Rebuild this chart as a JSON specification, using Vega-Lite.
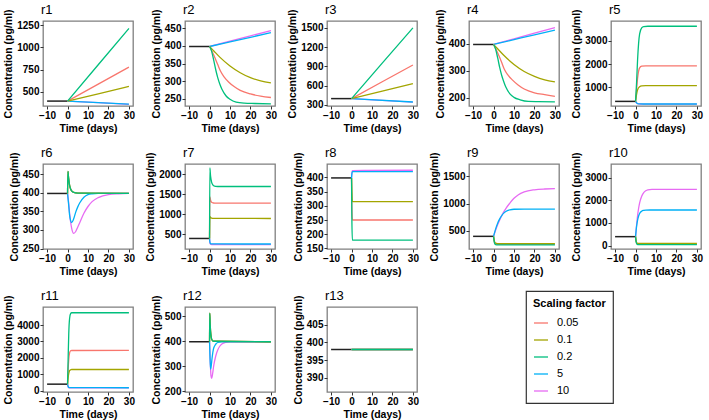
{
"$schema": "https://vega.github.io/schema/vega-lite/v6.json",
"padding": {"left": 3, "top": 3, "right": 4, "bottom": 1},
"columns": 5,
"spacing": {"row": 58, "column": 52},
"bounds": "flush",
"config": {
  "font": "Liberation Sans",
  "view": {"stroke": "#7f7f7f", "strokeWidth": 1.3},
  "axis": {"grid": false, "domain": false, "format": "d", "labelFontSize": 10, "labelFontWeight": "bold", "labelColor": "#000", "titleFontSize": 10.5, "titleFontWeight": "bold", "titleColor": "#000", "tickColor": "#333", "tickSize": 3, "labelPadding": 1, "titlePadding": 3},
  "title": {"fontSize": 13, "fontWeight": "normal", "anchor": "start", "frame": "group", "offset": -8, "color": "#000", "dx": -2},
  "legend": {"strokeColor": "#333", "strokeWidth": 1.2, "padding": 7, "titleFontSize": 11, "titleFontWeight": "bold", "titleColor": "#000", "labelFontSize": 11, "labelColor": "#000", "symbolSize": 196, "symbolStrokeWidth": 1.5, "rowPadding": 4, "labelOffset": 8, "titlePadding": 6},
  "line": {"strokeWidth": 1.3, "interpolate": "monotone"}
},
"datasets": {
"r1": [{"s":"base","t":-10,"v":398},{"s":"base","t":0,"v":398},
{"s":"10","t":0,"v":398},{"s":"10","t":15,"v":380},{"s":"10","t":30,"v":361},
{"s":"5","t":0,"v":398},{"s":"5","t":15,"v":381},{"s":"5","t":30,"v":364},
{"s":"0.05","t":0,"v":398},{"s":"0.05","t":15,"v":588},{"s":"0.05","t":30,"v":779},
{"s":"0.1","t":0,"v":398},{"s":"0.1","t":15,"v":480},{"s":"0.1","t":30,"v":562},
{"s":"0.2","t":0,"v":398},{"s":"0.2","t":15,"v":805},{"s":"0.2","t":30,"v":1212}],
"r2": [{"s":"base","t":-10,"v":398},{"s":"base","t":0,"v":398},
{"s":"10","t":0,"v":398},{"s":"10","t":10,"v":413},{"s":"10","t":20,"v":428},{"s":"10","t":30,"v":443},
{"s":"5","t":0,"v":398},{"s":"5","t":10,"v":411},{"s":"5","t":20,"v":424},{"s":"5","t":30,"v":437},
{"s":"0.05","t":0,"v":398},{"s":"0.05","t":2,"v":375},{"s":"0.05","t":4,"v":347},{"s":"0.05","t":5.4,"v":328},{"s":"0.05","t":7,"v":313},{"s":"0.05","t":9.3,"v":298},{"s":"0.05","t":12,"v":285},{"s":"0.05","t":15,"v":274},{"s":"0.05","t":20,"v":264},{"s":"0.05","t":25,"v":258},{"s":"0.05","t":30,"v":254},
{"s":"0.1","t":0,"v":398},{"s":"0.1","t":2,"v":386},{"s":"0.1","t":5,"v":368},{"s":"0.1","t":10,"v":343},{"s":"0.1","t":15,"v":324},{"s":"0.1","t":20,"v":310},{"s":"0.1","t":25,"v":301},{"s":"0.1","t":30,"v":295},
{"s":"0.2","t":0,"v":398},{"s":"0.2","t":1,"v":385},{"s":"0.2","t":2,"v":360},{"s":"0.2","t":3,"v":333},{"s":"0.2","t":4,"v":310},{"s":"0.2","t":5,"v":292},{"s":"0.2","t":6,"v":278},{"s":"0.2","t":8,"v":259},{"s":"0.2","t":10,"v":249},{"s":"0.2","t":13,"v":241},{"s":"0.2","t":17,"v":238},{"s":"0.2","t":22,"v":237},{"s":"0.2","t":30,"v":236}],
"r3": [{"s":"base","t":-10,"v":398},{"s":"base","t":0,"v":398},
{"s":"10","t":0,"v":398},{"s":"10","t":30,"v":342},
{"s":"5","t":0,"v":398},{"s":"5","t":30,"v":345},
{"s":"0.05","t":0,"v":398},{"s":"0.05","t":15,"v":660},{"s":"0.05","t":30,"v":922},
{"s":"0.1","t":0,"v":398},{"s":"0.1","t":15,"v":514},{"s":"0.1","t":30,"v":630},
{"s":"0.2","t":0,"v":398},{"s":"0.2","t":15,"v":950},{"s":"0.2","t":30,"v":1500}],
"r4": [{"s":"base","t":-10,"v":398},{"s":"base","t":0,"v":398},
{"s":"10","t":0,"v":398},{"s":"10","t":10,"v":419},{"s":"10","t":20,"v":440},{"s":"10","t":30,"v":460},
{"s":"5","t":0,"v":398},{"s":"5","t":10,"v":416},{"s":"5","t":20,"v":434},{"s":"5","t":30,"v":451},
{"s":"0.05","t":0,"v":398},{"s":"0.05","t":2,"v":367},{"s":"0.05","t":4,"v":331},{"s":"0.05","t":5.4,"v":304},{"s":"0.05","t":7,"v":285},{"s":"0.05","t":9.3,"v":266},{"s":"0.05","t":12,"v":248},{"s":"0.05","t":15,"v":233},{"s":"0.05","t":20,"v":219},{"s":"0.05","t":25,"v":212},{"s":"0.05","t":30,"v":206},
{"s":"0.1","t":0,"v":398},{"s":"0.1","t":2,"v":382},{"s":"0.1","t":5,"v":358},{"s":"0.1","t":10,"v":324},{"s":"0.1","t":15,"v":298},{"s":"0.1","t":20,"v":280},{"s":"0.1","t":25,"v":267},{"s":"0.1","t":30,"v":259},
{"s":"0.2","t":0,"v":398},{"s":"0.2","t":1,"v":381},{"s":"0.2","t":2,"v":349},{"s":"0.2","t":3,"v":313},{"s":"0.2","t":4,"v":283},{"s":"0.2","t":5,"v":260},{"s":"0.2","t":6,"v":240},{"s":"0.2","t":8,"v":215},{"s":"0.2","t":10,"v":202},{"s":"0.2","t":13,"v":193},{"s":"0.2","t":17,"v":187},{"s":"0.2","t":22,"v":186},{"s":"0.2","t":30,"v":185}],
"r5": [{"s":"base","t":-10,"v":398},{"s":"base","t":0,"v":398},
{"s":"10","t":0,"v":398},{"s":"10","t":0.5,"v":330},{"s":"10","t":1,"v":300},{"s":"10","t":2,"v":286},{"s":"10","t":4,"v":282},{"s":"10","t":30,"v":282},
{"s":"5","t":0,"v":398},{"s":"5","t":0.5,"v":335},{"s":"5","t":1,"v":305},{"s":"5","t":2,"v":290},{"s":"5","t":4,"v":285},{"s":"5","t":30,"v":285},
{"s":"0.05","t":0,"v":398},{"s":"0.05","t":0.5,"v":900},{"s":"0.05","t":1,"v":1400},{"s":"0.05","t":1.5,"v":1700},{"s":"0.05","t":2,"v":1840},{"s":"0.05","t":3,"v":1910},{"s":"0.05","t":5,"v":1925},{"s":"0.05","t":30,"v":1925},
{"s":"0.1","t":0,"v":398},{"s":"0.1","t":0.5,"v":700},{"s":"0.1","t":1,"v":900},{"s":"0.1","t":2,"v":1030},{"s":"0.1","t":3,"v":1065},{"s":"0.1","t":5,"v":1075},{"s":"0.1","t":30,"v":1075},
{"s":"0.2","t":0,"v":398},{"s":"0.2","t":0.5,"v":1200},{"s":"0.2","t":1,"v":2200},{"s":"0.2","t":1.5,"v":2900},{"s":"0.2","t":2,"v":3300},{"s":"0.2","t":3,"v":3550},{"s":"0.2","t":4,"v":3610},{"s":"0.2","t":6,"v":3625},{"s":"0.2","t":30,"v":3625}],
"r6": [{"s":"base","t":-10,"v":398},{"s":"base","t":0,"v":398},
{"s":"10","t":0,"v":398},{"s":"10","t":0.5,"v":375},{"s":"10","t":1,"v":345},{"s":"10","t":2,"v":305},{"s":"10","t":3,"v":291},{"s":"10","t":4,"v":296},{"s":"10","t":5,"v":308},{"s":"10","t":6,"v":320},{"s":"10","t":8,"v":345},{"s":"10","t":10,"v":363},{"s":"10","t":12,"v":376},{"s":"10","t":15,"v":387},{"s":"10","t":20,"v":395},{"s":"10","t":25,"v":397},{"s":"10","t":30,"v":398},
{"s":"5","t":0,"v":398},{"s":"5","t":0.5,"v":370},{"s":"5","t":1,"v":340},{"s":"5","t":1.5,"v":325},{"s":"5","t":2,"v":320},{"s":"5","t":3,"v":330},{"s":"5","t":4,"v":348},{"s":"5","t":5,"v":362},{"s":"5","t":6,"v":373},{"s":"5","t":8,"v":388},{"s":"5","t":10,"v":395},{"s":"5","t":12,"v":397},{"s":"5","t":15,"v":398},{"s":"5","t":30,"v":398},
{"s":"0.05","t":0,"v":398},{"s":"0.05","t":0.2,"v":457},{"s":"0.05","t":0.5,"v":440},{"s":"0.05","t":1,"v":420},{"s":"0.05","t":1.5,"v":410},{"s":"0.05","t":2,"v":405},{"s":"0.05","t":3,"v":401},{"s":"0.05","t":5,"v":399},{"s":"0.05","t":30,"v":398},
{"s":"0.1","t":0,"v":398},{"s":"0.1","t":0.2,"v":457},{"s":"0.1","t":0.5,"v":440},{"s":"0.1","t":1,"v":420},{"s":"0.1","t":1.5,"v":410},{"s":"0.1","t":2,"v":405},{"s":"0.1","t":3,"v":401},{"s":"0.1","t":5,"v":399},{"s":"0.1","t":30,"v":398},
{"s":"0.2","t":0,"v":398},{"s":"0.2","t":0.2,"v":457},{"s":"0.2","t":0.5,"v":440},{"s":"0.2","t":1,"v":420},{"s":"0.2","t":1.5,"v":410},{"s":"0.2","t":2,"v":405},{"s":"0.2","t":3,"v":401},{"s":"0.2","t":5,"v":399},{"s":"0.2","t":30,"v":398}],
"r7": [{"s":"base","t":-10,"v":398},{"s":"base","t":0,"v":398},
{"s":"10","t":0,"v":398},{"s":"10","t":0.2,"v":280},{"s":"10","t":0.5,"v":255},{"s":"10","t":1,"v":248},{"s":"10","t":30,"v":246},
{"s":"5","t":0,"v":398},{"s":"5","t":0.2,"v":300},{"s":"5","t":0.5,"v":270},{"s":"5","t":1,"v":262},{"s":"5","t":30,"v":260},
{"s":"0.05","t":0,"v":398},{"s":"0.05","t":0.15,"v":1430},{"s":"0.05","t":0.5,"v":1350},{"s":"0.05","t":1,"v":1300},{"s":"0.05","t":2,"v":1280},{"s":"0.05","t":3,"v":1275},{"s":"0.05","t":30,"v":1275},
{"s":"0.1","t":0,"v":398},{"s":"0.1","t":0.15,"v":945},{"s":"0.1","t":0.5,"v":920},{"s":"0.1","t":1,"v":905},{"s":"0.1","t":2,"v":897},{"s":"0.1","t":30,"v":895},
{"s":"0.2","t":0,"v":398},{"s":"0.2","t":0.15,"v":2150},{"s":"0.2","t":0.5,"v":1950},{"s":"0.2","t":1,"v":1800},{"s":"0.2","t":1.5,"v":1740},{"s":"0.2","t":2,"v":1710},{"s":"0.2","t":3,"v":1695},{"s":"0.2","t":5,"v":1690},{"s":"0.2","t":30,"v":1690}],
"r8": [{"s":"base","t":-10,"v":398},{"s":"base","t":0,"v":398},
{"s":"10","t":0,"v":398},{"s":"10","t":0.15,"v":415},{"s":"10","t":0.4,"v":424},{"s":"10","t":30,"v":425},
{"s":"5","t":0,"v":398},{"s":"5","t":0.15,"v":412},{"s":"5","t":0.4,"v":420},{"s":"5","t":30,"v":420},
{"s":"0.05","t":0,"v":398},{"s":"0.05","t":0.15,"v":300},{"s":"0.05","t":0.4,"v":250},{"s":"0.05","t":30,"v":250},
{"s":"0.1","t":0,"v":398},{"s":"0.1","t":0.15,"v":350},{"s":"0.1","t":0.4,"v":315},{"s":"0.1","t":30,"v":315},
{"s":"0.2","t":0,"v":398},{"s":"0.2","t":0.15,"v":260},{"s":"0.2","t":0.4,"v":179},{"s":"0.2","t":30,"v":179}],
"r9": [{"s":"base","t":-10,"v":398},{"s":"base","t":0,"v":398},
{"s":"10","t":0,"v":398},{"s":"10","t":1,"v":510},{"s":"10","t":2,"v":610},{"s":"10","t":3,"v":700},{"s":"10","t":4,"v":780},{"s":"10","t":5,"v":850},{"s":"10","t":6,"v":910},{"s":"10","t":8,"v":1010},{"s":"10","t":10,"v":1100},{"s":"10","t":12,"v":1160},{"s":"10","t":15,"v":1215},{"s":"10","t":20,"v":1255},{"s":"10","t":25,"v":1270},{"s":"10","t":30,"v":1275},
{"s":"5","t":0,"v":398},{"s":"5","t":1,"v":530},{"s":"5","t":2,"v":640},{"s":"5","t":3,"v":720},{"s":"5","t":4,"v":780},{"s":"5","t":5,"v":825},{"s":"5","t":6,"v":855},{"s":"5","t":8,"v":885},{"s":"5","t":10,"v":897},{"s":"5","t":15,"v":900},{"s":"5","t":30,"v":900},
{"s":"0.05","t":0,"v":398},{"s":"0.05","t":0.5,"v":285},{"s":"0.05","t":1,"v":258},{"s":"0.05","t":2,"v":252},{"s":"0.05","t":30,"v":252},
{"s":"0.1","t":0,"v":398},{"s":"0.1","t":0.5,"v":300},{"s":"0.1","t":1,"v":272},{"s":"0.1","t":2,"v":265},{"s":"0.1","t":30,"v":265},
{"s":"0.2","t":0,"v":398},{"s":"0.2","t":0.5,"v":270},{"s":"0.2","t":1,"v":245},{"s":"0.2","t":2,"v":240},{"s":"0.2","t":30,"v":240}],
"r10": [{"s":"base","t":-10,"v":398},{"s":"base","t":0,"v":398},
{"s":"10","t":0,"v":398},{"s":"10","t":0.5,"v":900},{"s":"10","t":1,"v":1330},{"s":"10","t":1.5,"v":1650},{"s":"10","t":2,"v":1890},{"s":"10","t":3,"v":2180},{"s":"10","t":4,"v":2340},{"s":"10","t":5,"v":2420},{"s":"10","t":6,"v":2460},{"s":"10","t":8,"v":2480},{"s":"10","t":30,"v":2482},
{"s":"5","t":0,"v":398},{"s":"5","t":0.5,"v":850},{"s":"5","t":1,"v":1130},{"s":"5","t":1.5,"v":1310},{"s":"5","t":2,"v":1420},{"s":"5","t":3,"v":1520},{"s":"5","t":4,"v":1555},{"s":"5","t":5,"v":1567},{"s":"5","t":7,"v":1572},{"s":"5","t":30,"v":1572},
{"s":"0.05","t":0,"v":398},{"s":"0.05","t":0.3,"v":180},{"s":"0.05","t":0.8,"v":80},{"s":"0.05","t":1.5,"v":70},{"s":"0.05","t":30,"v":70},
{"s":"0.1","t":0,"v":398},{"s":"0.1","t":0.3,"v":200},{"s":"0.1","t":0.8,"v":110},{"s":"0.1","t":1.5,"v":100},{"s":"0.1","t":30,"v":100},
{"s":"0.2","t":0,"v":398},{"s":"0.2","t":0.3,"v":160},{"s":"0.2","t":0.8,"v":55},{"s":"0.2","t":1.5,"v":45},{"s":"0.2","t":30,"v":45}],
"r11": [{"s":"base","t":-10,"v":398},{"s":"base","t":0,"v":398},
{"s":"10","t":0,"v":398},{"s":"10","t":0.3,"v":230},{"s":"10","t":0.6,"v":185},{"s":"10","t":1,"v":172},{"s":"10","t":30,"v":170},
{"s":"5","t":0,"v":398},{"s":"5","t":0.3,"v":250},{"s":"5","t":0.6,"v":200},{"s":"5","t":1,"v":185},{"s":"5","t":30,"v":180},
{"s":"0.05","t":0,"v":398},{"s":"0.05","t":0.3,"v":1300},{"s":"0.05","t":0.6,"v":1900},{"s":"0.05","t":1,"v":2300},{"s":"0.05","t":1.5,"v":2430},{"s":"0.05","t":2,"v":2450},{"s":"0.05","t":30,"v":2455},
{"s":"0.1","t":0,"v":398},{"s":"0.1","t":0.3,"v":800},{"s":"0.1","t":0.6,"v":1050},{"s":"0.1","t":1,"v":1220},{"s":"0.1","t":1.5,"v":1275},{"s":"0.1","t":2,"v":1290},{"s":"0.1","t":30,"v":1290},
{"s":"0.2","t":0,"v":398},{"s":"0.2","t":0.3,"v":2000},{"s":"0.2","t":0.6,"v":3500},{"s":"0.2","t":1,"v":4400},{"s":"0.2","t":1.5,"v":4700},{"s":"0.2","t":2,"v":4750},{"s":"0.2","t":30,"v":4750}],
"r12": [{"s":"base","t":-10,"v":398},{"s":"base","t":0,"v":398},
{"s":"10","t":0,"v":398},{"s":"10","t":0.3,"v":330},{"s":"10","t":0.7,"v":262},{"s":"10","t":1,"v":252},{"s":"10","t":1.5,"v":270},{"s":"10","t":2,"v":300},{"s":"10","t":3,"v":340},{"s":"10","t":4,"v":365},{"s":"10","t":5,"v":380},{"s":"10","t":6,"v":389},{"s":"10","t":8,"v":396},{"s":"10","t":10,"v":398},{"s":"10","t":30,"v":398},
{"s":"5","t":0,"v":398},{"s":"5","t":0.2,"v":340},{"s":"5","t":0.5,"v":288},{"s":"5","t":0.8,"v":300},{"s":"5","t":1.2,"v":330},{"s":"5","t":1.6,"v":355},{"s":"5","t":2,"v":372},{"s":"5","t":3,"v":388},{"s":"5","t":4,"v":395},{"s":"5","t":6,"v":398},{"s":"5","t":30,"v":398},
{"s":"0.05","t":0,"v":398},{"s":"0.05","t":0.1,"v":512},{"s":"0.05","t":0.3,"v":470},{"s":"0.05","t":0.5,"v":440},{"s":"0.05","t":0.8,"v":418},{"s":"0.05","t":1.2,"v":405},{"s":"0.05","t":2,"v":400},{"s":"0.05","t":30,"v":398},
{"s":"0.1","t":0,"v":398},{"s":"0.1","t":0.1,"v":512},{"s":"0.1","t":0.3,"v":470},{"s":"0.1","t":0.5,"v":440},{"s":"0.1","t":0.8,"v":418},{"s":"0.1","t":1.2,"v":405},{"s":"0.1","t":2,"v":400},{"s":"0.1","t":30,"v":398},
{"s":"0.2","t":0,"v":398},{"s":"0.2","t":0.1,"v":512},{"s":"0.2","t":0.3,"v":470},{"s":"0.2","t":0.5,"v":440},{"s":"0.2","t":0.8,"v":418},{"s":"0.2","t":1.2,"v":405},{"s":"0.2","t":2,"v":400},{"s":"0.2","t":30,"v":398}],
"r13": [{"s":"base","t":-10,"v":398},{"s":"base","t":0,"v":398},
{"s":"10","t":0,"v":398},{"s":"10","t":30,"v":398},
{"s":"5","t":0,"v":398},{"s":"5","t":30,"v":398},
{"s":"0.05","t":0,"v":398},{"s":"0.05","t":30,"v":398},
{"s":"0.1","t":0,"v":398},{"s":"0.1","t":30,"v":398},
{"s":"0.2","t":0,"v":398},{"s":"0.2","t":30,"v":398}]
},
"concat": [
{"title":"r1","width":90,"height":85,"data":{"name":"r1"},"encoding":{"x":{"field":"t","type":"quantitative","scale":{"domain":[-12,32],"nice":false},"axis":{"values":[-10,0,10,20,30]},"title":"Time (days)"},"y":{"field":"v","type":"quantitative","scale":{"domain":[343,1295],"nice":false,"zero":false},"axis":{"values":[500,750,1000,1250]},"title":"Concentration (pg/ml)"}},"layer":[{"transform":[{"filter":"datum.s=='base'"}],"mark":{"type":"line","color":"#222","strokeWidth":1.5},"encoding":{}},{"transform":[{"filter":"datum.s!='base'"}],"mark":{"type":"line","clip":true},"encoding":{"color":{"field":"s","type":"nominal","title":"Scaling factor","scale":{"domain":["0.05","0.1","0.2","5","10"],"range":["#F8766D","#A3A500","#00BF7D","#00B0F6","#E76BF3"]},"legend":{"orient":"none","legendX":483,"legendY":270}}}}]},
{"title":"r2","width":90,"height":85,"data":{"name":"r2"},"encoding":{"x":{"field":"t","type":"quantitative","scale":{"domain":[-12,32],"nice":false},"axis":{"values":[-10,0,10,20,30]},"title":"Time (days)"},"y":{"field":"v","type":"quantitative","scale":{"domain":[230,470],"nice":false,"zero":false},"axis":{"values":[250,300,350,400,450]},"title":"Concentration (pg/ml)"}},"layer":[{"transform":[{"filter":"datum.s=='base'"}],"mark":{"type":"line","color":"#222","strokeWidth":1.5},"encoding":{}},{"transform":[{"filter":"datum.s!='base'"}],"mark":{"type":"line","clip":true},"encoding":{"color":{"field":"s","type":"nominal","title":"Scaling factor","scale":{"domain":["0.05","0.1","0.2","5","10"],"range":["#F8766D","#A3A500","#00BF7D","#00B0F6","#E76BF3"]},"legend":{"orient":"none","legendX":483,"legendY":270}}}}]},
{"title":"r3","width":90,"height":85,"data":{"name":"r3"},"encoding":{"x":{"field":"t","type":"quantitative","scale":{"domain":[-12,32],"nice":false},"axis":{"values":[-10,0,10,20,30]},"title":"Time (days)"},"y":{"field":"v","type":"quantitative","scale":{"domain":[283,1606],"nice":false,"zero":false},"axis":{"values":[300,600,900,1200,1500]},"title":"Concentration (pg/ml)"}},"layer":[{"transform":[{"filter":"datum.s=='base'"}],"mark":{"type":"line","color":"#222","strokeWidth":1.5},"encoding":{}},{"transform":[{"filter":"datum.s!='base'"}],"mark":{"type":"line","clip":true},"encoding":{"color":{"field":"s","type":"nominal","title":"Scaling factor","scale":{"domain":["0.05","0.1","0.2","5","10"],"range":["#F8766D","#A3A500","#00BF7D","#00B0F6","#E76BF3"]},"legend":{"orient":"none","legendX":483,"legendY":270}}}}]},
{"title":"r4","width":90,"height":85,"data":{"name":"r4"},"encoding":{"x":{"field":"t","type":"quantitative","scale":{"domain":[-12,32],"nice":false},"axis":{"values":[-10,0,10,20,30]},"title":"Time (days)"},"y":{"field":"v","type":"quantitative","scale":{"domain":[170,485],"nice":false,"zero":false},"axis":{"values":[200,300,400]},"title":"Concentration (pg/ml)"}},"layer":[{"transform":[{"filter":"datum.s=='base'"}],"mark":{"type":"line","color":"#222","strokeWidth":1.5},"encoding":{}},{"transform":[{"filter":"datum.s!='base'"}],"mark":{"type":"line","clip":true},"encoding":{"color":{"field":"s","type":"nominal","title":"Scaling factor","scale":{"domain":["0.05","0.1","0.2","5","10"],"range":["#F8766D","#A3A500","#00BF7D","#00B0F6","#E76BF3"]},"legend":{"orient":"none","legendX":483,"legendY":270}}}}]},
{"title":"r5","width":90,"height":85,"data":{"name":"r5"},"encoding":{"x":{"field":"t","type":"quantitative","scale":{"domain":[-12,32],"nice":false},"axis":{"values":[-10,0,10,20,30]},"title":"Time (days)"},"y":{"field":"v","type":"quantitative","scale":{"domain":[200,3850],"nice":false,"zero":false},"axis":{"values":[1000,2000,3000]},"title":"Concentration (pg/ml)"}},"layer":[{"transform":[{"filter":"datum.s=='base'"}],"mark":{"type":"line","color":"#222","strokeWidth":1.5},"encoding":{}},{"transform":[{"filter":"datum.s!='base'"}],"mark":{"type":"line","clip":true},"encoding":{"color":{"field":"s","type":"nominal","title":"Scaling factor","scale":{"domain":["0.05","0.1","0.2","5","10"],"range":["#F8766D","#A3A500","#00BF7D","#00B0F6","#E76BF3"]},"legend":{"orient":"none","legendX":483,"legendY":270}}}}]},
{"title":"r6","width":90,"height":85,"data":{"name":"r6"},"encoding":{"x":{"field":"t","type":"quantitative","scale":{"domain":[-12,32],"nice":false},"axis":{"values":[-10,0,10,20,30]},"title":"Time (days)"},"y":{"field":"v","type":"quantitative","scale":{"domain":[249,477],"nice":false,"zero":false},"axis":{"values":[250,300,350,400,450]},"title":"Concentration (pg/ml)"}},"layer":[{"transform":[{"filter":"datum.s=='base'"}],"mark":{"type":"line","color":"#222","strokeWidth":1.5},"encoding":{}},{"transform":[{"filter":"datum.s!='base'"}],"mark":{"type":"line","clip":true},"encoding":{"color":{"field":"s","type":"nominal","title":"Scaling factor","scale":{"domain":["0.05","0.1","0.2","5","10"],"range":["#F8766D","#A3A500","#00BF7D","#00B0F6","#E76BF3"]},"legend":{"orient":"none","legendX":483,"legendY":270}}}}]},
{"title":"r7","width":90,"height":85,"data":{"name":"r7"},"encoding":{"x":{"field":"t","type":"quantitative","scale":{"domain":[-12,32],"nice":false},"axis":{"values":[-10,0,10,20,30]},"title":"Time (days)"},"y":{"field":"v","type":"quantitative","scale":{"domain":[136,2250],"nice":false,"zero":false},"axis":{"values":[500,1000,1500,2000]},"title":"Concentration (pg/ml)"}},"layer":[{"transform":[{"filter":"datum.s=='base'"}],"mark":{"type":"line","color":"#222","strokeWidth":1.5},"encoding":{}},{"transform":[{"filter":"datum.s!='base'"}],"mark":{"type":"line","clip":true},"encoding":{"color":{"field":"s","type":"nominal","title":"Scaling factor","scale":{"domain":["0.05","0.1","0.2","5","10"],"range":["#F8766D","#A3A500","#00BF7D","#00B0F6","#E76BF3"]},"legend":{"orient":"none","legendX":483,"legendY":270}}}}]},
{"title":"r8","width":90,"height":85,"data":{"name":"r8"},"encoding":{"x":{"field":"t","type":"quantitative","scale":{"domain":[-12,32],"nice":false},"axis":{"values":[-10,0,10,20,30]},"title":"Time (days)"},"y":{"field":"v","type":"quantitative","scale":{"domain":[148,447],"nice":false,"zero":false},"axis":{"values":[150,200,250,300,350,400]},"title":"Concentration (pg/ml)"}},"layer":[{"transform":[{"filter":"datum.s=='base'"}],"mark":{"type":"line","color":"#222","strokeWidth":1.5},"encoding":{}},{"transform":[{"filter":"datum.s!='base'"}],"mark":{"type":"line","clip":true},"encoding":{"color":{"field":"s","type":"nominal","title":"Scaling factor","scale":{"domain":["0.05","0.1","0.2","5","10"],"range":["#F8766D","#A3A500","#00BF7D","#00B0F6","#E76BF3"]},"legend":{"orient":"none","legendX":483,"legendY":270}}}}]},
{"title":"r9","width":90,"height":85,"data":{"name":"r9"},"encoding":{"x":{"field":"t","type":"quantitative","scale":{"domain":[-12,32],"nice":false},"axis":{"values":[-10,0,10,20,30]},"title":"Time (days)"},"y":{"field":"v","type":"quantitative","scale":{"domain":[165,1730],"nice":false,"zero":false},"axis":{"values":[500,1000,1500]},"title":"Concentration (pg/ml)"}},"layer":[{"transform":[{"filter":"datum.s=='base'"}],"mark":{"type":"line","color":"#222","strokeWidth":1.5},"encoding":{}},{"transform":[{"filter":"datum.s!='base'"}],"mark":{"type":"line","clip":true},"encoding":{"color":{"field":"s","type":"nominal","title":"Scaling factor","scale":{"domain":["0.05","0.1","0.2","5","10"],"range":["#F8766D","#A3A500","#00BF7D","#00B0F6","#E76BF3"]},"legend":{"orient":"none","legendX":483,"legendY":270}}}}]},
{"title":"r10","width":90,"height":85,"data":{"name":"r10"},"encoding":{"x":{"field":"t","type":"quantitative","scale":{"domain":[-12,32],"nice":false},"axis":{"values":[-10,0,10,20,30]},"title":"Time (days)"},"y":{"field":"v","type":"quantitative","scale":{"domain":[-146,3600],"nice":false,"zero":false},"axis":{"values":[0,1000,2000,3000]},"title":"Concentration (pg/ml)"}},"layer":[{"transform":[{"filter":"datum.s=='base'"}],"mark":{"type":"line","color":"#222","strokeWidth":1.5},"encoding":{}},{"transform":[{"filter":"datum.s!='base'"}],"mark":{"type":"line","clip":true},"encoding":{"color":{"field":"s","type":"nominal","title":"Scaling factor","scale":{"domain":["0.05","0.1","0.2","5","10"],"range":["#F8766D","#A3A500","#00BF7D","#00B0F6","#E76BF3"]},"legend":{"orient":"none","legendX":483,"legendY":270}}}}]},
{"title":"r11","width":90,"height":85,"data":{"name":"r11"},"encoding":{"x":{"field":"t","type":"quantitative","scale":{"domain":[-12,32],"nice":false},"axis":{"values":[-10,0,10,20,30]},"title":"Time (days)"},"y":{"field":"v","type":"quantitative","scale":{"domain":[-80,5100],"nice":false,"zero":false},"axis":{"values":[0,1000,2000,3000,4000]},"title":"Concentration (pg/ml)"}},"layer":[{"transform":[{"filter":"datum.s=='base'"}],"mark":{"type":"line","color":"#222","strokeWidth":1.5},"encoding":{}},{"transform":[{"filter":"datum.s!='base'"}],"mark":{"type":"line","clip":true},"encoding":{"color":{"field":"s","type":"nominal","title":"Scaling factor","scale":{"domain":["0.05","0.1","0.2","5","10"],"range":["#F8766D","#A3A500","#00BF7D","#00B0F6","#E76BF3"]},"legend":{"orient":"none","legendX":483,"legendY":270}}}}]},
{"title":"r12","width":90,"height":85,"data":{"name":"r12"},"encoding":{"x":{"field":"t","type":"quantitative","scale":{"domain":[-12,32],"nice":false},"axis":{"values":[-10,0,10,20,30]},"title":"Time (days)"},"y":{"field":"v","type":"quantitative","scale":{"domain":[197,537],"nice":false,"zero":false},"axis":{"values":[200,300,400,500]},"title":"Concentration (pg/ml)"}},"layer":[{"transform":[{"filter":"datum.s=='base'"}],"mark":{"type":"line","color":"#222","strokeWidth":1.5},"encoding":{}},{"transform":[{"filter":"datum.s!='base'"}],"mark":{"type":"line","clip":true},"encoding":{"color":{"field":"s","type":"nominal","title":"Scaling factor","scale":{"domain":["0.05","0.1","0.2","5","10"],"range":["#F8766D","#A3A500","#00BF7D","#00B0F6","#E76BF3"]},"legend":{"orient":"none","legendX":483,"legendY":270}}}}]},
{"title":"r13","width":90,"height":85,"data":{"name":"r13"},"encoding":{"x":{"field":"t","type":"quantitative","scale":{"domain":[-12,32],"nice":false},"axis":{"values":[-10,0,10,20,30]},"title":"Time (days)"},"y":{"field":"v","type":"quantitative","scale":{"domain":[386,410],"nice":false,"zero":false},"axis":{"values":[390,395,400,405]},"title":"Concentration (pg/ml)"}},"layer":[{"transform":[{"filter":"datum.s=='base'"}],"mark":{"type":"line","color":"#222","strokeWidth":1.5},"encoding":{}},{"transform":[{"filter":"datum.s!='base'"}],"mark":{"type":"line","clip":true},"encoding":{"color":{"field":"s","type":"nominal","title":"Scaling factor","scale":{"domain":["0.05","0.1","0.2","5","10"],"range":["#F8766D","#A3A500","#00BF7D","#00B0F6","#E76BF3"]},"legend":{"orient":"none","legendX":483,"legendY":270}}}}]}
]
}
